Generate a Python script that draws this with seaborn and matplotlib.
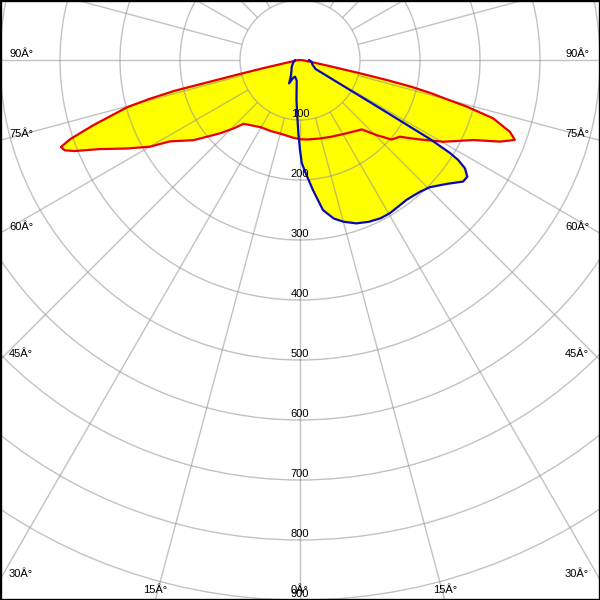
import numpy as np
import matplotlib
matplotlib.use("Agg")
import matplotlib.pyplot as plt
import seaborn as sns
import pandas as pd
from matplotlib.patches import Rectangle

# ---------------- data (gamma angle in degrees, intensity) ----------------
# C0-C180 plane (red curve)
red_gamma = [-90, -85, -79, -77.5, -76.9, -76.2, -75.5, -74.7, -72.5, -71, -70, -69,
             -68, -66, -63, -60, -58, -53, -47.5, -44, -41.5, -36, -30.7, -22, -15,
             -5, 0, 5, 14.3, 22, 30.3, 36, 41.7, 45.6, 49, 52.5, 54.6, 56.5, 60.3,
             65.2, 67.8, 69.6, 71.1, 73.2, 74.4, 75, 75.8, 76.5, 77, 77.5, 78.5, 80,
             85, 90]
red_cd = [0, 5, 17, 60, 103, 215, 260, 299, 361, 405, 424, 420,
          405, 365, 325, 289, 256, 222, 181, 158, 142, 135, 130, 128, 127,
          130, 132, 133, 135, 138, 143, 148, 155, 179, 202, 210, 225, 240, 275,
          318, 360, 382, 370, 336, 288, 255, 225, 190, 150, 102, 45, 17,
          5, 0]

# C90-C270 plane (blue curve)
blue_gamma = [-90, -70, -50, -40, -30, -25, -21, -17, -12, -9, -5, -3, -1.3, 0, 1,
              3, 5.7, 8.7, 12, 15, 19, 23, 27, 30.4, 34, 37.3, 42.3, 45.6, 49.8,
              53.3, 55.1, 56.7, 57.7, 58.2, 58.7, 58.9, 59.3, 60, 70, 80, 90]
blue_cd = [8, 12, 18, 22, 30, 43, 32, 29, 32, 35, 67, 90, 122, 150, 172,
           190, 218, 253, 270, 279, 288, 293, 296, 296, 294, 293, 297, 303, 320,
           339, 340, 329, 312, 294, 253, 157, 60, 30, 22, 20, 15]

ring_values = [100, 200, 300, 400, 500, 600, 700, 800, 900]
ring_labels = ["100", "200", "300", "400", "500", "600", "700", "800", "900"]
angle_ticks = [0, 15, 30, 45, 60, 75, 90]
angle_labels = ["0\u00c2\u00b0", "15\u00c2\u00b0", "30\u00c2\u00b0", "45\u00c2\u00b0",
                "60\u00c2\u00b0", "75\u00c2\u00b0", "90\u00c2\u00b0"]

# ---------------- layout ----------------
R_MAX = 1000          # radius shown at 600 px
VIEW_HALF_WIDTH = 500  # visible half width (units)
VIEW_DEPTH = 900       # visible depth below the centre (units)

sns.set_style("white")
plt.rcParams["font.family"] = ["Liberation Sans", "DejaVu Sans"]

fig = plt.figure(figsize=(6, 6), dpi=100, facecolor="white")
ax = fig.add_axes([-0.5, -0.1, 2.0, 2.0], projection="polar")
ax.set_theta_zero_location("S")
ax.set_theta_direction(1)
ax.set_ylim(0, R_MAX)
ax.set_facecolor("white")
ax.spines["polar"].set_visible(False)
ax.set_axisbelow(False)

red = pd.DataFrame({"theta": np.deg2rad(red_gamma), "cd": red_cd})
blue = pd.DataFrame({"theta": np.deg2rad(blue_gamma), "cd": blue_cd})

ax.fill(red["theta"], red["cd"], color="#ffff00", lw=0, zorder=1)
ax.fill(blue["theta"], blue["cd"], color="#ffff00", lw=0, zorder=1)

# grid
grid_kw = dict(color="#909090", alpha=0.55, lw=1.0)
ax.set_rticks(ring_values)
ax.set_yticklabels([])
ax.yaxis.grid(True, **grid_kw)
ax.set_xticks([])
ax.xaxis.grid(False)
ax.vlines(np.deg2rad(np.arange(0, 360, 15)), ring_values[0], R_MAX,
          colors=grid_kw["color"], alpha=grid_kw["alpha"], lw=grid_kw["lw"], zorder=2.5)

sns.lineplot(data=red, x="theta", y="cd", sort=False, estimator=None, ax=ax,
             color="#e80000", lw=1.6, zorder=3, legend=False)
sns.lineplot(data=blue, x="theta", y="cd", sort=False, estimator=None, ax=ax,
             color="#0a0ab4", lw=1.6, zorder=4, legend=False)
ax.set_xlabel("")
ax.set_ylabel("")
ax.set_ylim(0, R_MAX)

# ring labels
for v, lbl in zip(ring_values, ring_labels):
    ax.annotate(lbl, (0, v), xytext=(0, 3), textcoords="offset pixels",
                ha="center", va="baseline", fontsize=8, color="black",
                annotation_clip=False, zorder=5)

# angle labels where each ray meets the frame
for deg, lbl in zip(angle_ticks, angle_labels):
    for side in (-1, 1):
        if deg == 0 and side == 1:
            continue
        a = np.deg2rad(deg)
        s, c = np.sin(a), np.cos(a)
        r_side = VIEW_HALF_WIDTH / s if s > 1e-9 else np.inf
        r_bot = VIEW_DEPTH / c if c > 1e-9 else np.inf
        if r_side <= r_bot:
            r_hit = r_side
            off = (9, 3) if side < 0 else (-11, 3)
            ha = "left" if side < 0 else "right"
        else:
            r_hit = r_bot
            off = (0, 7)
            ha = "center"
        ax.annotate(lbl, (side * a, r_hit), xytext=off, textcoords="offset pixels",
                    ha=ha, va="baseline", fontsize=8, color="black",
                    annotation_clip=False, zorder=5)

fig.patches.append(Rectangle((0, 0), 1, 1, transform=fig.transFigure, fill=False,
                             edgecolor="black", lw=2.4, zorder=10))

fig.savefig("out.png", dpi=100, facecolor="white")
